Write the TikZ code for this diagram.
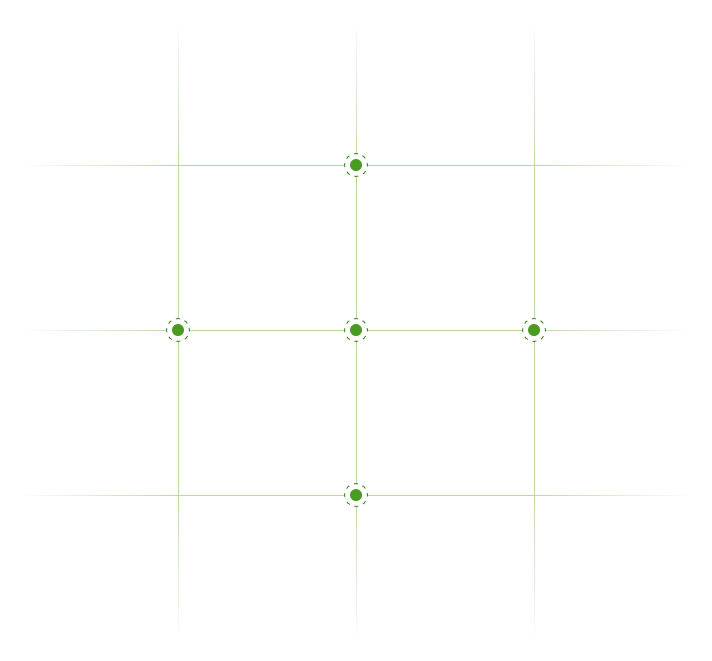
\documentclass[tikz,border=0pt]{standalone}
\usepackage{tikz}
\usetikzlibrary{positioning,calc}

\definecolor{gridgreen}{HTML}{B7DCA3}
\definecolor{dotgreen}{HTML}{4A9B22}
\definecolor{ringgreen}{HTML}{3F8F1E}

\tikzset{
  gridline/.style={draw=gridgreen, line width=0.03cm},
  ring/.style={circle, draw=ringgreen, line width=0.028cm,
    dash pattern=on 0.12cm off 0.151cm, dash phase=0.06cm,
    fill=white, inner sep=0pt, minimum size=0.69cm},
  dot/.style={circle, fill=dotgreen, inner sep=0pt, minimum size=0.36cm},
}

\begin{document}
\begin{tikzpicture}[x=0.03cm, y=-0.03cm]
  % рамка картинки
  \useasboundingbox (0,0) rectangle (712,660);

  % узлы сетки
  \foreach \x [count=\i] in {178,356,534}
    \foreach \y [count=\j] in {165,330,495}
      \coordinate (g\i\j) at (\x,\y);

  % затухающие концы линий (по кусочкам)
  \foreach \k in {0,...,19} {
    \pgfmathsetmacro{\ha}{15+\k*163/20}   \pgfmathsetmacro{\hb}{15+(\k+1)*163/20}
    \pgfmathsetmacro{\hc}{697-\k*163/20}  \pgfmathsetmacro{\hd}{697-(\k+1)*163/20}
    \pgfmathsetmacro{\va}{15+\k*150/20}   \pgfmathsetmacro{\vb}{15+(\k+1)*150/20}
    \pgfmathsetmacro{\vc}{645-\k*150/20}  \pgfmathsetmacro{\vd}{645-(\k+1)*150/20}
    \pgfmathtruncatemacro{\sh}{(\k+0.5)*5}
    \foreach \t in {165,330,495} {
      \draw[gridline, draw=gridgreen!\sh!white] (\ha,\t) -- (\hb,\t);
      \draw[gridline, draw=gridgreen!\sh!white] (\hc,\t) -- (\hd,\t);
    }
    \foreach \t in {178,356,534} {
      \draw[gridline, draw=gridgreen!\sh!white] (\t,\va) -- (\t,\vb);
      \draw[gridline, draw=gridgreen!\sh!white] (\t,\vc) -- (\t,\vd);
    }
  }

  % внутренняя часть сетки
  \foreach \j in {1,2,3}
    \draw[gridline] (g1\j) -- (g3\j);
  \foreach \i in {1,2,3}
    \draw[gridline] (g\i1) -- (g\i3);

  % точки
  \foreach \name/\pos in {n/g21, w/g12, c/g22, e/g32, s/g23} {
    \node[ring] (\name ring) at (\pos) {};
    \node[dot] (\name) at (\pos) {};
  }
\end{tikzpicture}
\end{document}
